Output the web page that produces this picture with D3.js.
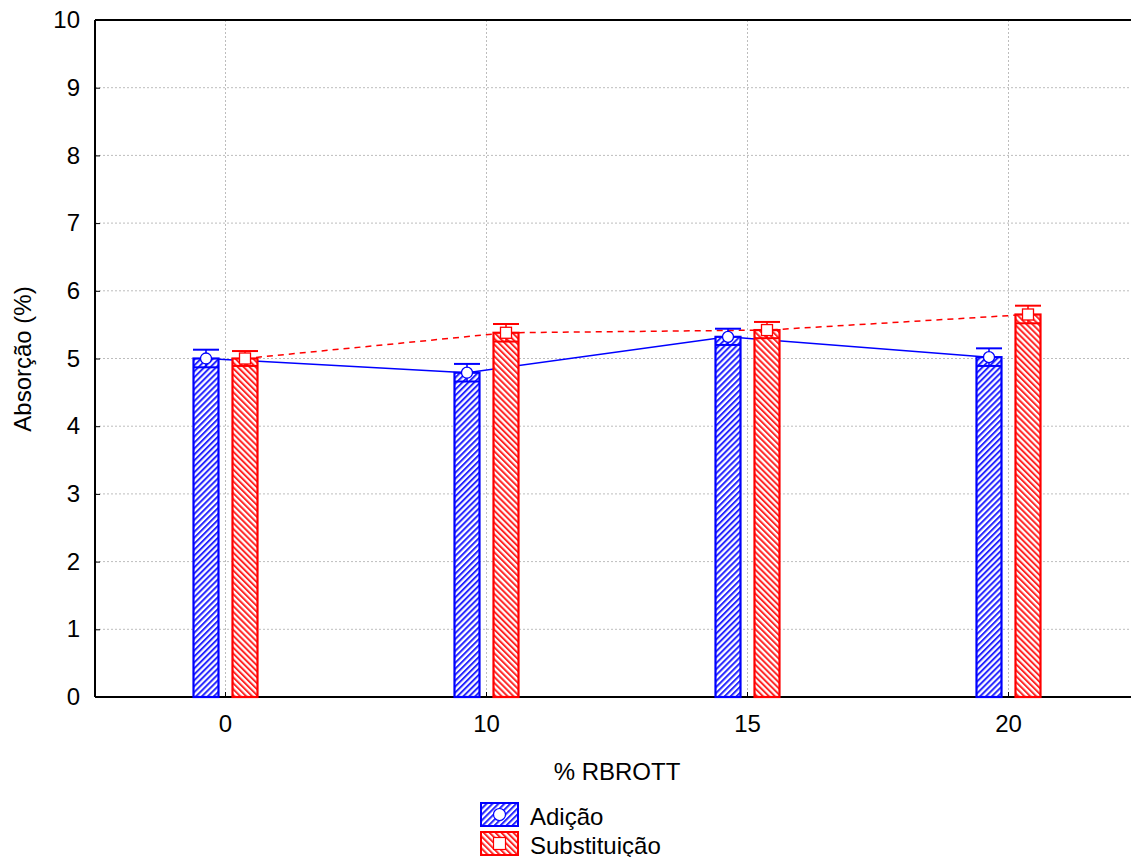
<!DOCTYPE html>
<html>
<head>
<meta charset="utf-8">
<script src="https://cdn.jsdelivr.net/npm/d3@7"></script>
<style>
  body { margin: 0; background: #fff; }
  svg text { font-family: "Liberation Sans", Arial, sans-serif; fill: #000; }
</style>
</head>
<body>
<svg id="chart" width="1131" height="857"></svg>
<script>
// data
var categories = ["0", "10", "15", "20"];
var adicao = [5.0, 4.79, 5.32, 5.02];
var adicaoErr = [0.13, 0.13, 0.12, 0.13];
var substituicao = [5.0, 5.38, 5.42, 5.65];
var substituicaoErr = [0.11, 0.13, 0.12, 0.13];
var yTicks = [0, 1, 2, 3, 4, 5, 6, 7, 8, 9, 10];

(function() {
  var BLUE = "#0000ff", RED = "#ff0000";
  var FS = "24px";

  var svg = d3.select("#chart");
  var pLeft = 95, pTop = 20, pRight = 1139, pBottom = 697;

  var x = d3.scaleBand().domain(categories).range([pLeft, pRight]).padding(0);
  var y = d3.scaleLinear().domain([0, 10]).range([pBottom, pTop]);

  // hatch patterns
  var defs = svg.append("defs");
  function hatch(id, color, angle) {
    var p = defs.append("pattern")
      .attr("id", id)
      .attr("patternUnits", "userSpaceOnUse")
      .attr("width", 4.2).attr("height", 4.2)
      .attr("patternTransform", "rotate(" + angle + ")");
    p.append("rect").attr("width", 4.2).attr("height", 4.2).attr("fill", "#fff");
    p.append("line").attr("x1", 1).attr("y1", 0).attr("x2", 1).attr("y2", 4.2)
      .attr("stroke", color).attr("stroke-width", 2).attr("opacity", 0.85);
  }
  hatch("hBlue", BLUE, 45);
  hatch("hRed", RED, -45);

  // grid
  svg.append("g").selectAll("line").data(yTicks.slice(1)).enter().append("line")
    .attr("x1", pLeft).attr("x2", pRight)
    .attr("y1", function(d) { return y(d); }).attr("y2", function(d) { return y(d); })
    .attr("stroke", "#bdbdbd").attr("stroke-dasharray", "2,2").attr("stroke-width", 1);
  svg.append("g").selectAll("line").data(categories).enter().append("line")
    .attr("x1", function(d) { return x(d) + x.bandwidth() / 2; })
    .attr("x2", function(d) { return x(d) + x.bandwidth() / 2; })
    .attr("y1", pTop).attr("y2", pBottom)
    .attr("stroke", "#bdbdbd").attr("stroke-dasharray", "2,2").attr("stroke-width", 1);

  // axes
  var yAxis = d3.axisLeft(y).tickValues(yTicks).tickSize(-5).tickPadding(15);
  var gy = svg.append("g").attr("transform", "translate(" + pLeft + ",0)").call(yAxis);
  var xAxis = d3.axisBottom(x).tickSize(-5).tickPadding(18);
  var gx = svg.append("g").attr("transform", "translate(0," + pBottom + ")").call(xAxis);
  [gy, gx].forEach(function(g) {
    g.attr("font-size", null).attr("font-family", null);
    g.select(".domain").remove();
    g.selectAll("line").attr("stroke", "#000");
    g.selectAll("text").style("font-size", FS);
  });
  svg.append("line").attr("x1", pLeft).attr("x2", pLeft).attr("y1", pTop).attr("y2", pBottom)
    .attr("stroke", "#000").attr("stroke-width", 2);
  svg.append("line").attr("x1", pLeft).attr("x2", pRight).attr("y1", pTop).attr("y2", pTop)
    .attr("stroke", "#000").attr("stroke-width", 2);
  svg.append("line").attr("x1", pLeft).attr("x2", pRight).attr("y1", pBottom).attr("y2", pBottom)
    .attr("stroke", "#000").attr("stroke-width", 2);

  var off = 19.5, bw = 25;
  var series = [
    { vals: adicao, err: adicaoErr, color: BLUE, fill: "url(#hBlue)", dx: -off, dash: null, marker: "circle" },
    { vals: substituicao, err: substituicaoErr, color: RED, fill: "url(#hRed)", dx: off, dash: "6,5", marker: "square" }
  ];
  function cx(i, s) { return x(categories[i]) + x.bandwidth() / 2 + s.dx; }

  // lines (behind bars)
  series.forEach(function(s) {
    var line = d3.line()
      .x(function(d, i) { return cx(i, s); })
      .y(function(d) { return y(d); });
    svg.append("path").datum(s.vals)
      .attr("d", line).attr("fill", "none")
      .attr("stroke", s.color).attr("stroke-width", 1.5)
      .attr("stroke-dasharray", s.dash);
  });

  // bars, error bars, markers
  series.forEach(function(s) {
    var g = svg.append("g");
    g.selectAll("rect").data(s.vals).enter().append("rect")
      .attr("x", function(d, i) { return cx(i, s) - bw / 2; })
      .attr("y", function(d) { return y(d); })
      .attr("width", bw)
      .attr("height", function(d) { return pBottom - y(d); })
      .attr("fill", s.fill).attr("stroke", s.color).attr("stroke-width", 2.2);
    s.vals.forEach(function(v, i) {
      var c = cx(i, s), e = s.err[i];
      g.append("line").attr("x1", c).attr("x2", c).attr("y1", y(v + e)).attr("y2", y(v - e))
        .attr("stroke", s.color).attr("stroke-width", 1.5);
      [v + e, v - e].forEach(function(w) {
        g.append("line").attr("x1", c - 13).attr("x2", c + 13).attr("y1", y(w)).attr("y2", y(w))
          .attr("stroke", s.color).attr("stroke-width", 2);
      });
      if (s.marker == "circle") {
        g.append("circle").attr("cx", c).attr("cy", y(v)).attr("r", 5.5)
          .attr("fill", "#fff").attr("stroke", s.color).attr("stroke-width", 1.3);
      } else {
        g.append("rect").attr("x", c - 5.5).attr("y", y(v) - 5.5).attr("width", 11).attr("height", 11)
          .attr("fill", "#fff").attr("stroke", s.color).attr("stroke-width", 1.3);
      }
    });
  });

  // axis titles
  svg.append("text").attr("x", 617).attr("y", 780).attr("text-anchor", "middle")
    .style("font-size", FS).text("% RBROTT");
  svg.append("text").attr("transform", "translate(31,359) rotate(-90)").attr("text-anchor", "middle")
    .style("font-size", FS).text("Absorção (%)");

  // legend
  var legend = [
    { name: "Adição", s: series[0] },
    { name: "Substituição", s: series[1] }
  ];
  legend.forEach(function(l, i) {
    var ly = 803 + i * 29;
    svg.append("rect").attr("x", 481).attr("y", ly).attr("width", 37).attr("height", 23)
      .attr("fill", l.s.fill).attr("stroke", l.s.color).attr("stroke-width", 2);
    if (l.s.marker == "circle") {
      svg.append("circle").attr("cx", 499.5).attr("cy", ly + 11.5).attr("r", 6)
        .attr("fill", "#fff").attr("stroke", l.s.color).attr("stroke-width", 1.2);
    } else {
      svg.append("rect").attr("x", 493.5).attr("y", ly + 5.5).attr("width", 12).attr("height", 12)
        .attr("fill", "#fff").attr("stroke", l.s.color).attr("stroke-width", 1.2);
    }
    svg.append("text").attr("x", 530).attr("y", ly + 22).style("font-size", FS).text(l.name);
  });
})();
</script>
</body>
</html>
